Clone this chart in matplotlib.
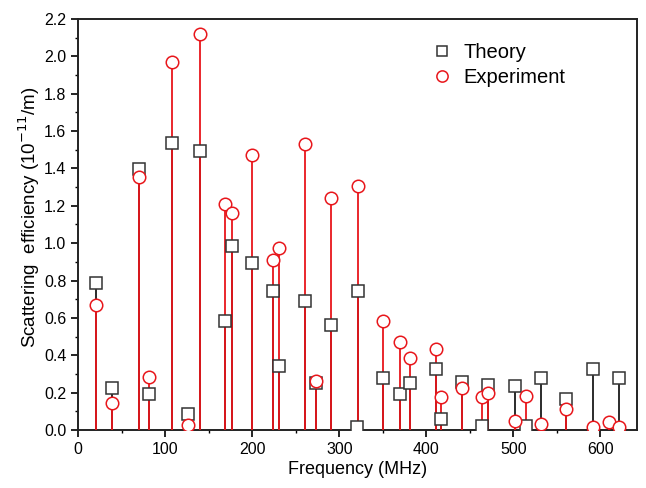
import matplotlib
matplotlib.use("Agg")
import matplotlib.pyplot as plt
from matplotlib.ticker import MultipleLocator

plt.rcParams["font.family"] = ["Liberation Sans", "DejaVu Sans"]

# theory (black squares)
theory_f = [21, 38.7, 70, 80.9, 108, 125.7, 139.9, 169, 176.3, 200, 223.4, 230.7,
            260.6, 272.8, 290.5, 320, 321.9, 350.6, 369.4, 380.9, 410.7, 416.9,
            441, 464.4, 471.3, 501.6, 514.2, 531.8, 560.6, 591.2, 621.5]
theory_v = [0.789, 0.227, 1.395, 0.191, 1.535, 0.084, 1.495, 0.583, 0.985, 0.896,
            0.746, 0.344, 0.692, 0.25, 0.562, 0.014, 0.746, 0.277, 0.191, 0.253,
            0.325, 0.057, 0.255, 0.021, 0.241, 0.237, 0.021, 0.28, 0.164, 0.325, 0.28]

# experiment (red circles)
exp_f = [21, 38.7, 70, 80.9, 108, 125.7, 139.9, 169, 176.3, 200, 223.4, 230.7,
         260.6, 272.8, 290.5, 321.9, 350.6, 369.4, 380.9, 410.7, 416.9,
         441, 464.4, 471.3, 501.6, 514.2, 531.8, 560.6, 591.2, 610, 621.5]
exp_v = [0.669, 0.143, 1.356, 0.282, 1.972, 0.027, 2.118, 1.21, 1.16, 1.472,
         0.91, 0.973, 1.529, 0.262, 1.242, 1.306, 0.583, 0.469, 0.384, 0.435, 0.178,
         0.227, 0.178, 0.2, 0.05, 0.182, 0.03, 0.111, 0.018, 0.045, 0.013]

fig = plt.figure(figsize=(6.46, 4.88), dpi=100)
ax = fig.add_axes([0.121, 0.119, 0.865, 0.842])

ax.vlines(theory_f, 0, theory_v, color="#1a1a1a", linewidth=1.3, zorder=2)
ax.vlines(exp_f, 0, exp_v, color="#e8161b", linewidth=1.3, zorder=3)
ax.plot(theory_f, theory_v, ls="none", marker="s", ms=8, mfc="white", mec="#333333",
        mew=1.1, label="Theory", zorder=4)
ax.plot(exp_f, exp_v, ls="none", marker="o", ms=9, mfc="white", mec="#e8161b",
        mew=1.1, label="Experiment", zorder=5)

ax.set_xlim(0, 642)
ax.set_ylim(0, 2.2)
ax.xaxis.set_major_locator(MultipleLocator(100))
ax.xaxis.set_minor_locator(MultipleLocator(50))
ax.yaxis.set_major_locator(MultipleLocator(0.2))
ax.yaxis.set_minor_locator(MultipleLocator(0.1))
ax.yaxis.set_major_formatter(plt.FormatStrFormatter("%.1f"))
ax.tick_params(which="major", direction="out", length=5, width=1.2, labelsize=11.5)
ax.tick_params(which="minor", direction="out", length=2.5, width=1.0)
for s in ax.spines.values():
    s.set_linewidth(1.4)
    s.set_color("#222222")

ax.set_xlabel("Frequency (MHz)", fontsize=13, labelpad=3)
ax.set_ylabel("Scattering  efficiency (10$^{-11}$/m)", fontsize=13.5)
ax.yaxis.set_label_coords(-0.064, 0.518)

leg = ax.legend(loc="upper right", bbox_to_anchor=(0.905, 0.985), frameon=False,
                fontsize=14.5, handletextpad=0.5, labelspacing=0.3, handlelength=1.2,
                markerscale=0.9)

fig.savefig("out.png", dpi=100)
